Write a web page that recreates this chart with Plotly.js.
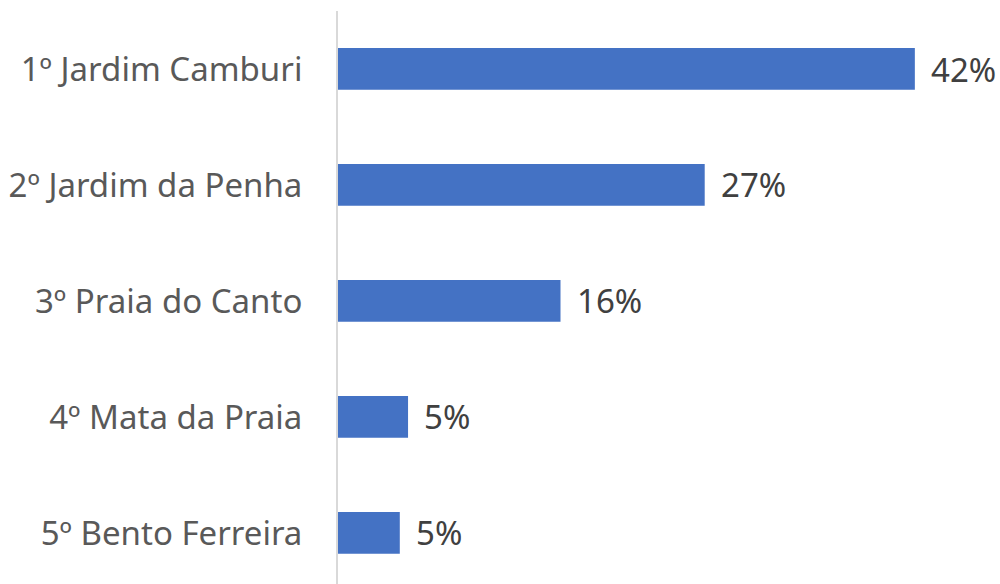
<!DOCTYPE html>
<html>
<head>
<meta charset="utf-8">
<script src="https://cdn.plot.ly/plotly-3.0.1.min.js"></script>
<style>html,body{margin:0;padding:0;background:#fff;}#chart{width:1000px;height:584px;}</style>
</head>
<body>
<div id="chart"></div>
<script>
const categories = ["1º Jardim Camburi", "2º Jardim da Penha", "3º Praia do Canto", "4º Mata da Praia", "5º Bento Ferreira"];
const values = [42.0, 26.7, 16.2, 5.1, 4.5];
const valueLabels = ["42%", "27%", "16%", "5%", "5%"];

const FONT = "Noto Sans, Open Sans, sans-serif";

const trace = {
  type: "bar",
  orientation: "h",
  y: categories,
  x: values,
  marker: {color: "#4472C4"},
  width: 0.36,
  hoverinfo: "none"
};

const annotations = categories.map((c, i) => ({
  x: values[i], y: c, xref: "x", yref: "y",
  text: valueLabels[i], showarrow: false,
  xanchor: "left", yanchor: "middle", xshift: 14,
  font: {family: FONT, size: 33, color: "#404040"}
}));

const layout = {
  width: 1000, height: 584,
  margin: {l: 338, r: 0, t: 11, b: 0},
  paper_bgcolor: "#fff", plot_bgcolor: "#fff",
  showlegend: false,
  xaxis: {range: [0, 48.2], visible: false, fixedrange: true},
  yaxis: {
    type: "category",
    range: [4.44, -0.5],
    showline: true, linecolor: "#d9d9d9", linewidth: 2,
    showgrid: false, zeroline: false, ticks: "",
    ticklabelstandoff: 27,
    tickfont: {family: FONT, size: 33, color: "#595959"}
  },
  annotations: annotations
};

Plotly.newPlot("chart", [trace], layout, {staticPlot: true, displayModeBar: false});
</script>
</body>
</html>
